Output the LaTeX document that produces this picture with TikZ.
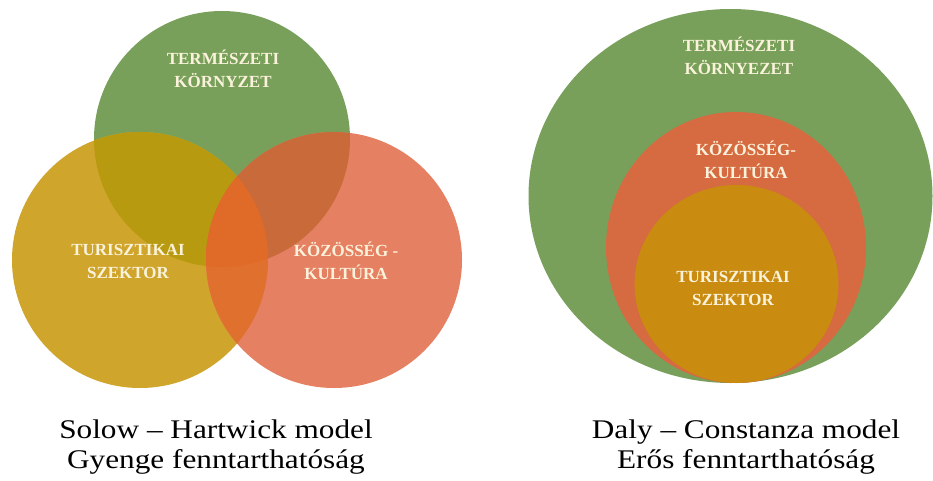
\documentclass[tikz,border=0pt]{standalone}
\usepackage{fontspec}
\setmainfont{Liberation Serif}
\usepackage{graphicx}

\definecolor{natgreen}{RGB}{120,160,90}
\definecolor{tourgold}{RGB}{207,165,44}
\definecolor{comred}{RGB}{229,128,98}
\definecolor{greengold}{RGB}{184,154,16}
\definecolor{greenred}{RGB}{200,106,58}
\definecolor{goldred}{RGB}{224,112,46}
\definecolor{allthree}{RGB}{224,106,40}
\definecolor{innerred}{RGB}{214,106,64}
\definecolor{innergold}{RGB}{202,140,16}
\definecolor{labeltext}{RGB}{250,242,218}

\tikzset{
  lbl/.style={text=labeltext,font=\bfseries\fontsize{14.5}{19.6}\selectfont,align=center,inner sep=0pt},
  capt/.style={font=\fontsize{23}{25.6}\selectfont,align=center,inner sep=0pt},
}
\newcommand{\widetext}[1]{\scalebox{1.16}[1]{#1}}

\begin{document}
\begin{tikzpicture}[x=0.03cm,y=-0.03cm]
    \useasboundingbox (0,0) rectangle (933,481);
    % Solow - Hartwick: three overlapping circles
    \fill[natgreen] (222,139) circle (128);
    \fill[tourgold] (140,260) circle (128);
    \fill[comred] (334,260) circle (128);
    \begin{scope}
        \clip (222,139) circle (128);
        \fill[greengold] (140,260) circle (128);
        \fill[greenred] (334,260) circle (128);
    \end{scope}
    \begin{scope}
        \clip (140,260) circle (128);
        \fill[goldred] (334,260) circle (128);
        \clip (334,260) circle (128);
        \fill[allthree] (222,139) circle (128);
    \end{scope}
    \node[lbl] (envA) at (223,69) {TERMÉSZETI\\KÖRNYZET};
    \node[lbl] (tourA) at (128,261) {TURISZTIKAI\\SZEKTOR};
    \node[lbl] (comA) at (346,261) {KÖZÖSSÉG -\\KULTÚRA};
    % Daly - Constanza: nested shapes
    \fill[natgreen] (730.5,196) ellipse [x radius=202, y radius=187];
    \fill[innerred] (736,247.5) ellipse [x radius=130, y radius=135.5];
    \fill[innergold] (736.5,284) ellipse [x radius=102, y radius=99];
    \node[lbl] (envB) at (739,56) {TERMÉSZETI\\KÖRNYEZET};
    \node[lbl] (comB) at (746,160) {KÖZÖSSÉG-\\KULTÚRA};
    \node[lbl] (tourB) at (733,288) {TURISZTIKAI\\SZEKTOR};
    % captions
    \node[capt] (captA) at (216,447) {\widetext{Solow -- Hartwick model}\\\widetext{Gyenge fenntarthatóság}};
    \node[capt] (captB) at (746,447) {\widetext{Daly -- Constanza model}\\\widetext{Erős fenntarthatóság}};
\end{tikzpicture}
\end{document}
